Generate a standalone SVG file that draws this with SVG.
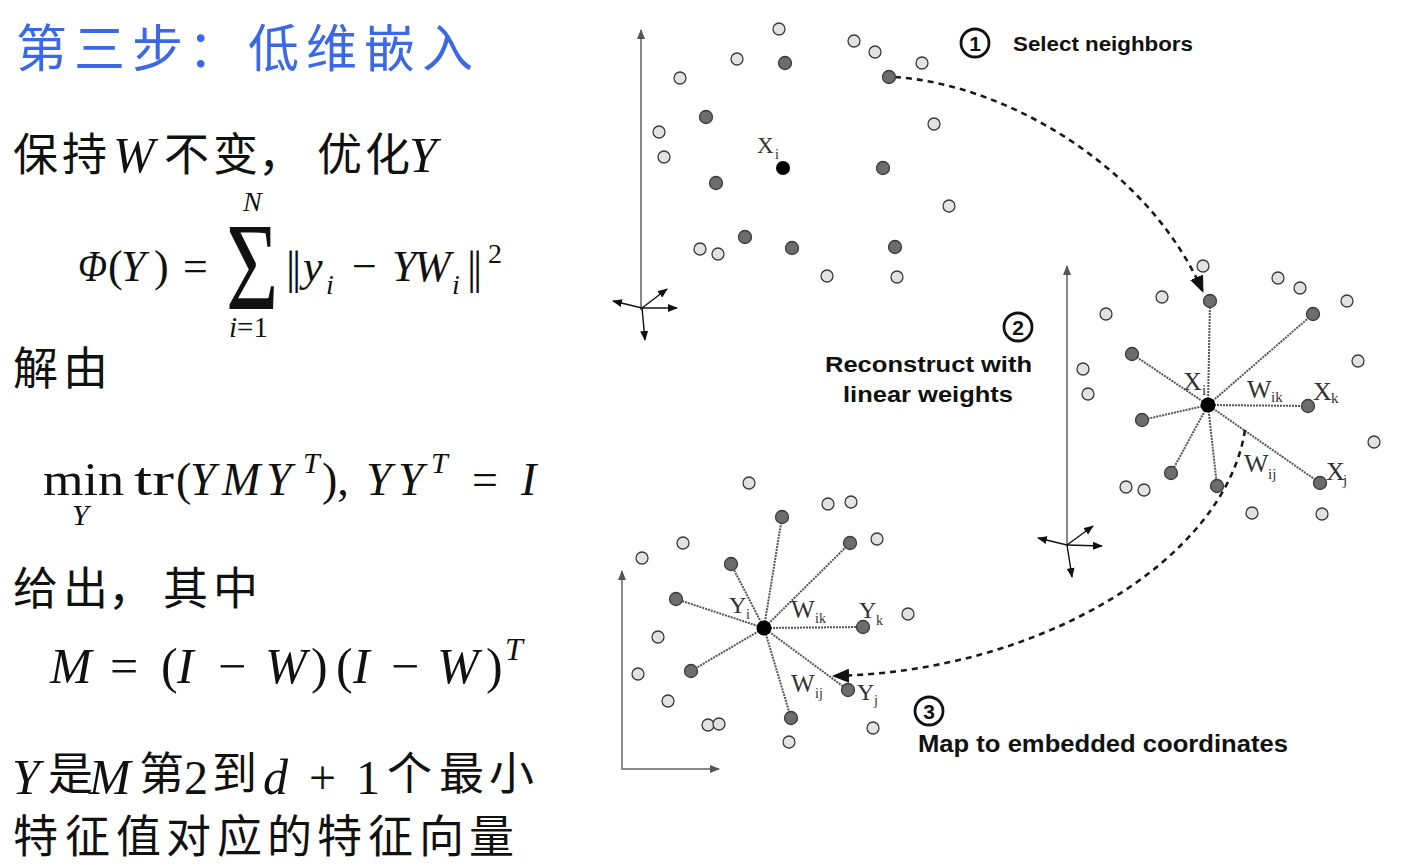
<svg xmlns="http://www.w3.org/2000/svg" width="1410" height="865" viewBox="0 0 1410 865">
<style>
.cjk{font-family:"Noto Sans CJK SC","Noto Sans CJK JP",sans-serif;font-size:45px;fill:#111}
.ttl{font-family:"Noto Sans CJK SC",sans-serif;font-size:51px;fill:#3b68e8}
.mi{font-family:"Liberation Serif","DejaVu Serif",serif;font-style:italic;fill:#111}
.mr{font-family:"Liberation Serif","DejaVu Serif",serif;fill:#111}
.lt{fill:#e2e2e2;stroke:#3a3a3a;stroke-width:1.3}
.dk{fill:#6c6c6c;stroke:#3a3a3a;stroke-width:1.3}
.bk{fill:#000}
.lab{font-family:"Liberation Serif",serif;fill:#333}
.cap{font-family:"Liberation Sans",Arial,sans-serif;font-weight:bold;fill:#111}
.num{fill:none;stroke:#111;stroke-width:2.8}
.spoke{stroke:#555;stroke-width:2;stroke-dasharray:2 1;fill:none}
.arc{stroke:#1a1a1a;stroke-width:2.6;stroke-dasharray:6 5;fill:none}
.axis{stroke:#888;stroke-width:2;fill:none}
.ax{stroke:#111;stroke-width:1.4;fill:none}
</style>
<defs>
<marker id="sa" markerUnits="userSpaceOnUse" markerWidth="10" markerHeight="8" refX="9" refY="4" orient="auto"><path d="M0,0 L10,4 L0,8 z" fill="#111"/></marker>
<marker id="ga" markerUnits="userSpaceOnUse" markerWidth="10" markerHeight="8" refX="9" refY="4" orient="auto"><path d="M0,0 L10,4 L0,8 z" fill="#555"/></marker>
<marker id="big" markerUnits="userSpaceOnUse" markerWidth="18" markerHeight="14" refX="16" refY="7" orient="auto"><path d="M0,0 L17,7 L0,14 z" fill="#111"/></marker>
</defs>

<!-- Left text -->
<g id="title">
<text class="ttl" y="67"><tspan x="16">第</tspan><tspan x="74">三</tspan><tspan x="132">步</tspan><tspan x="188">：</tspan><tspan x="248">低</tspan><tspan x="306">维</tspan><tspan x="364">嵌</tspan><tspan x="422">入</tspan></text>
</g>
<g id="line1">
<text class="cjk" y="171"><tspan x="13">保</tspan><tspan x="62">持</tspan><tspan x="164">不</tspan><tspan x="213">变</tspan><tspan x="258">，</tspan><tspan x="317">优</tspan><tspan x="365">化</tspan></text>
<text class="mi" font-size="50" y="172"><tspan x="113">W</tspan><tspan x="409">Y</tspan></text>
</g>
<g id="phi">
<text class="mi" font-size="44" x="78" y="281" textLength="29" lengthAdjust="spacingAndGlyphs">Φ</text>
<text class="mr" font-size="44" y="281"><tspan x="108">(</tspan><tspan x="154">)</tspan><tspan x="183">=</tspan></text>
<text class="mi" font-size="44" y="281"><tspan x="121">Y</tspan></text>
<text class="mr" font-size="90" transform="translate(226,309) scale(1,1.4)">Σ</text>
<text class="mi" font-size="28" x="243" y="211">N</text>
<text class="mr" font-size="29" x="229" y="337"><tspan font-style="italic">i</tspan>=1</text>
<text class="mr" font-size="46" y="283"><tspan x="286">|</tspan><tspan x="292">|</tspan><tspan x="467">|</tspan><tspan x="473">|</tspan></text>
<text class="mr" font-size="44" x="352" y="281">−</text>
<text class="mi" font-size="44" y="281"><tspan x="303">y</tspan><tspan x="392">Y</tspan><tspan x="414">W</tspan></text>
<text class="mi" font-size="28" y="294"><tspan x="326">i</tspan><tspan x="452">i</tspan></text>
<text class="mr" font-size="28" x="488" y="263">2</text>
</g>
<g id="line2">
<text class="cjk" y="385"><tspan x="13">解</tspan><tspan x="63">由</tspan></text>
</g>
<g id="minf">
<text class="mr" font-size="46" y="495"><tspan x="43" textLength="81" lengthAdjust="spacingAndGlyphs">min</tspan><tspan x="134" textLength="40" lengthAdjust="spacingAndGlyphs">tr</tspan><tspan x="176">(</tspan><tspan x="322">),</tspan><tspan x="472">=</tspan></text>
<text class="mi" font-size="30" x="72" y="525">Y</text>
<text class="mi" font-size="46" y="495"><tspan x="190">Y</tspan><tspan x="222">M</tspan><tspan x="266">Y</tspan><tspan x="366">Y</tspan><tspan x="398">Y</tspan><tspan x="521">I</tspan></text>
<text class="mi" font-size="30" y="473"><tspan x="303">T</tspan><tspan x="431">T</tspan></text>
</g>
<g id="line3">
<text class="cjk" y="605"><tspan x="13">给</tspan><tspan x="63">出</tspan><tspan x="108">，</tspan><tspan x="163">其</tspan><tspan x="213">中</tspan></text>
</g>
<g id="mf">
<text class="mi" font-size="50" y="683"><tspan x="50">M</tspan><tspan x="177">I</tspan><tspan x="265">W</tspan><tspan x="353">I</tspan><tspan x="437">W</tspan></text>
<text class="mr" font-size="50" y="683"><tspan x="110">=</tspan><tspan x="161">(</tspan><tspan x="218">−</tspan><tspan x="311">)</tspan><tspan x="336">(</tspan><tspan x="391">−</tspan><tspan x="486">)</tspan></text>
<text class="mi" font-size="32" x="505" y="660">T</text>
</g>
<g id="line4">
<text class="mi" font-size="50" y="794"><tspan x="12">Y</tspan><tspan x="89">M</tspan><tspan x="263">d</tspan></text>
<text class="cjk" y="790"><tspan x="48">是</tspan><tspan x="139">第</tspan><tspan x="212">到</tspan><tspan x="387">个</tspan><tspan x="439">最</tspan><tspan x="489">小</tspan></text>
<text class="mr" font-size="48" y="794"><tspan x="184">2</tspan><tspan x="309">+</tspan><tspan x="356">1</tspan></text>
</g>
<g id="line5">
<text class="cjk" y="853"><tspan x="13">特</tspan><tspan x="65">征</tspan><tspan x="116">值</tspan><tspan x="166">对</tspan><tspan x="217">应</tspan><tspan x="267">的</tspan><tspan x="317">特</tspan><tspan x="368">征</tspan><tspan x="419">向</tspan><tspan x="469">量</tspan></text>
</g>

<!-- Connectors -->
<g id="connectors">
<g id="axes">
<path class="axis" d="M641,310 L641,30" marker-end="url(#ga)"/>
<path class="ax" d="M642,308 L613,301" marker-end="url(#sa)"/>
<path class="ax" d="M642,308 L677,308" marker-end="url(#sa)"/>
<path class="ax" d="M642,308 L667,289" marker-end="url(#sa)"/>
<path class="ax" d="M642,308 L645,340" marker-end="url(#sa)"/>
<path class="axis" d="M1067,546 L1067,266" marker-end="url(#ga)"/>
<path class="ax" d="M1067,545 L1038,538" marker-end="url(#sa)"/>
<path class="ax" d="M1067,545 L1102,546" marker-end="url(#sa)"/>
<path class="ax" d="M1067,545 L1093,526" marker-end="url(#sa)"/>
<path class="ax" d="M1067,545 L1072,577" marker-end="url(#sa)"/>
<path class="axis" d="M622,769 L622,571" marker-end="url(#ga)"/>
<path class="axis" d="M621,769 L719,769" marker-end="url(#ga)"/>
</g>
<g id="spokes-mid">
<path class="spoke" d="M1208,405 L1210,301 M1208,405 L1313,314 M1208,405 L1132,354 M1208,405 L1142,420 M1208,405 L1308,406 M1208,405 L1171,473 M1208,405 L1217,486 M1208,405 L1320,483"/>
</g>
<g id="spokes-bot">
<path class="spoke" d="M764,628 L782,517 M764,628 L850,543 M764,628 L731,564 M764,628 L676,599 M764,628 L863,627 M764,628 L691,671 M764,628 L848,690 M764,628 L791,718"/>
</g>
<path id="arc1" class="arc" d="M895,77 C1010,85 1150,170 1203,292" marker-end="url(#big)"/>
<path id="arc2" class="arc" d="M1245,430 C1225,560 1040,672 833,676" marker-end="url(#big)"/>
</g>

<!-- Scatter: original space -->
<g id="cluster-top">
<circle class="lt" cx="779" cy="29" r="6"/><circle class="lt" cx="854" cy="41" r="6"/><circle class="lt" cx="875" cy="52" r="6"/><circle class="lt" cx="922" cy="63" r="6"/><circle class="lt" cx="737" cy="59" r="6"/><circle class="lt" cx="680" cy="78" r="6"/><circle class="lt" cx="659" cy="132" r="6"/><circle class="lt" cx="664" cy="157" r="6"/><circle class="lt" cx="934" cy="124" r="6"/><circle class="lt" cx="949" cy="206" r="6"/><circle class="lt" cx="700" cy="249" r="6"/><circle class="lt" cx="718" cy="254" r="6"/><circle class="lt" cx="827" cy="276" r="6"/><circle class="lt" cx="897" cy="277" r="6"/>
<circle class="dk" cx="785" cy="63" r="6.5"/><circle class="dk" cx="889" cy="77" r="6.5"/><circle class="dk" cx="706" cy="117" r="6.5"/><circle class="dk" cx="716" cy="183" r="6.5"/><circle class="dk" cx="883" cy="168" r="6.5"/><circle class="dk" cx="745" cy="237" r="6.5"/><circle class="dk" cx="792" cy="248" r="6.5"/><circle class="dk" cx="895" cy="247" r="6.5"/>
<circle class="bk" cx="783" cy="168" r="7"/>
<text class="lab" font-size="23" x="757" y="153">X</text><text class="lab" font-size="14" x="775" y="159">i</text>
</g>
<g id="cluster-mid">
<circle class="lt" cx="1203" cy="266" r="6"/><circle class="lt" cx="1162" cy="297" r="6"/><circle class="lt" cx="1106" cy="314" r="6"/><circle class="lt" cx="1278" cy="278" r="6"/><circle class="lt" cx="1300" cy="288" r="6"/><circle class="lt" cx="1347" cy="301" r="6"/><circle class="lt" cx="1358" cy="361" r="6"/><circle class="lt" cx="1083" cy="369" r="6"/><circle class="lt" cx="1088" cy="394" r="6"/><circle class="lt" cx="1374" cy="442" r="6"/><circle class="lt" cx="1126" cy="487" r="6"/><circle class="lt" cx="1144" cy="490" r="6"/><circle class="lt" cx="1252" cy="513" r="6"/><circle class="lt" cx="1322" cy="514" r="6"/>
<circle class="dk" cx="1210" cy="301" r="6.5"/><circle class="dk" cx="1313" cy="314" r="6.5"/><circle class="dk" cx="1132" cy="354" r="6.5"/><circle class="dk" cx="1142" cy="420" r="6.5"/><circle class="dk" cx="1308" cy="406" r="6.5"/><circle class="dk" cx="1171" cy="473" r="6.5"/><circle class="dk" cx="1217" cy="486" r="6.5"/><circle class="dk" cx="1320" cy="483" r="6.5"/>
<circle class="bk" cx="1208" cy="405" r="7.5"/>
<text class="lab" font-size="26" x="1183" y="390">X</text><text class="lab" font-size="15" x="1202" y="395">i</text>
<text class="lab" font-size="26" x="1247" y="398">W</text><text class="lab" font-size="15" x="1271" y="402">ik</text>
<text class="lab" font-size="26" x="1313" y="400">X</text><text class="lab" font-size="15" x="1331" y="403">k</text>
<text class="lab" font-size="26" x="1244" y="472">W</text><text class="lab" font-size="15" x="1268" y="479">ij</text>
<text class="lab" font-size="26" x="1326" y="480">X</text><text class="lab" font-size="15" x="1343" y="485">j</text>
</g>
<g id="cluster-bot">
<circle class="lt" cx="749" cy="483" r="6"/><circle class="lt" cx="828" cy="504" r="6"/><circle class="lt" cx="851" cy="502" r="6"/><circle class="lt" cx="683" cy="543" r="6"/><circle class="lt" cx="877" cy="539" r="6"/><circle class="lt" cx="642" cy="558" r="6"/><circle class="lt" cx="908" cy="614" r="6"/><circle class="lt" cx="658" cy="637" r="6"/><circle class="lt" cx="638" cy="674" r="6"/><circle class="lt" cx="668" cy="701" r="6"/><circle class="lt" cx="708" cy="725" r="6"/><circle class="lt" cx="719" cy="724" r="6"/><circle class="lt" cx="873" cy="728" r="6"/><circle class="lt" cx="789" cy="742" r="6"/>
<circle class="dk" cx="782" cy="517" r="6.5"/><circle class="dk" cx="850" cy="543" r="6.5"/><circle class="dk" cx="731" cy="564" r="6.5"/><circle class="dk" cx="676" cy="599" r="6.5"/><circle class="dk" cx="863" cy="627" r="6.5"/><circle class="dk" cx="691" cy="671" r="6.5"/><circle class="dk" cx="848" cy="690" r="6.5"/><circle class="dk" cx="791" cy="718" r="6.5"/>
<circle class="bk" cx="764" cy="628" r="7.5"/>
<text class="lab" font-size="24" x="729" y="613">Y</text><text class="lab" font-size="14" x="746" y="619">i</text>
<text class="lab" font-size="25" x="791" y="618">W</text><text class="lab" font-size="14" x="815" y="623">ik</text>
<text class="lab" font-size="24" x="859" y="618">Y</text><text class="lab" font-size="14" x="876" y="625">k</text>
<text class="lab" font-size="25" x="791" y="692">W</text><text class="lab" font-size="14" x="815" y="698">ij</text>
<text class="lab" font-size="24" x="857" y="700">Y</text><text class="lab" font-size="14" x="874" y="705">j</text>
</g>

<!-- Step captions -->
<g id="step1">
<circle class="num" cx="975" cy="43" r="14"/>
<text class="cap" font-size="21" x="975" y="51" text-anchor="middle">1</text>
<text class="cap" font-size="21" x="1013" y="51" textLength="180" lengthAdjust="spacingAndGlyphs">Select neighbors</text>
</g>
<g id="step2">
<circle class="num" cx="1018" cy="327" r="14"/>
<text class="cap" font-size="21" x="1018" y="335" text-anchor="middle">2</text>
<text class="cap" font-size="22" x="825" y="372" textLength="207" lengthAdjust="spacingAndGlyphs">Reconstruct with</text>
<text class="cap" font-size="22" x="843" y="402" textLength="170" lengthAdjust="spacingAndGlyphs">linear weights</text>
</g>
<g id="step3">
<circle class="num" cx="929" cy="711" r="14"/>
<text class="cap" font-size="21" x="929" y="719" text-anchor="middle">3</text>
<text class="cap" font-size="23" x="918" y="752" textLength="370" lengthAdjust="spacingAndGlyphs">Map to embedded coordinates</text>
</g>
</svg>
